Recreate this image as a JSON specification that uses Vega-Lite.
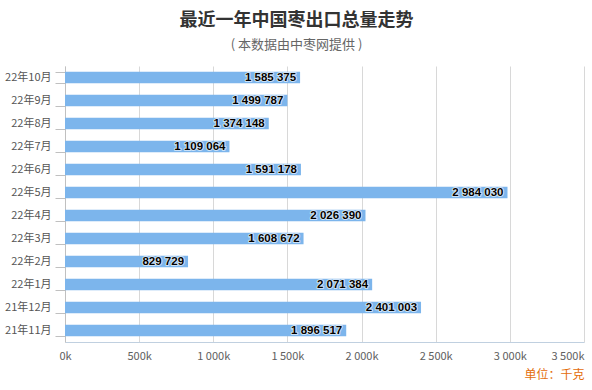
{
  "$schema": "https://vega.github.io/schema/vega-lite/v6.json",
  "width": 519,
  "height": 276,
  "autosize": "none",
  "padding": {"left": 65, "top": 66, "right": 8, "bottom": 48},
  "background": "white",
  "config": {
    "font": "Noto Sans CJK SC",
    "view": {"stroke": null},
    "locale": {"number": {"decimal": ".", "thousands": " ", "grouping": [3], "currency": ["", ""]}}
  },
  "title": {
    "text": "最近一年中国枣出口总量走势",
    "subtitle": "( 本数据由中枣网提供 )",
    "fontSize": 18,
    "fontWeight": "bold",
    "color": "#333333",
    "subtitleFontSize": 13,
    "subtitleColor": "#666666",
    "subtitlePadding": 9,
    "anchor": "middle",
    "dx": -28,
    "offset": 8
  },
  "data": {
    "values": [
      {"month": "22年10月", "value": 1585375},
      {"month": "22年9月", "value": 1499787},
      {"month": "22年8月", "value": 1374148},
      {"month": "22年7月", "value": 1109064},
      {"month": "22年6月", "value": 1591178},
      {"month": "22年5月", "value": 2984030},
      {"month": "22年4月", "value": 2026390},
      {"month": "22年3月", "value": 1608672},
      {"month": "22年2月", "value": 829729},
      {"month": "22年1月", "value": 2071384},
      {"month": "21年12月", "value": 2401003},
      {"month": "21年11月", "value": 1896517}
    ]
  },
  "encoding": {
    "y": {
      "field": "month",
      "type": "nominal",
      "sort": null,
      "scale": {"paddingInner": 0.5, "paddingOuter": 0.25},
      "axis": {
        "title": null,
        "labelFontSize": 11,
        "labelColor": "#555555",
        "labelPadding": 4,
        "tickBand": "extent",
        "tickSize": 10,
        "tickColor": "#c0c0c0",
        "domainColor": "#c0c0c0",
        "grid": false
      }
    },
    "x": {
      "field": "value",
      "type": "quantitative",
      "scale": {"domain": [0, 3500000], "nice": false},
      "axis": {
        "values": [0, 500000, 1000000, 1500000, 2000000, 2500000, 3000000, 3500000],
        "labelExpr": "format(datum.value / 1000, ',') + 'k'",
        "labelAlign": {"expr": "datum.value == 3500000 ? 'right' : 'center'"},
        "labelFlush": false,
        "labelFontSize": 11,
        "labelColor": "#606060",
        "labelPadding": 8,
        "ticks": false,
        "grid": true,
        "gridColor": "#d8d8d8",
        "domainColor": "#c0d0e0",
        "title": "单位：千克",
        "titleColor": "#e46c0a",
        "titleFontSize": 12,
        "titleFontWeight": "normal",
        "titleAnchor": "end",
        "titlePadding": 8
      }
    }
  },
  "layer": [
    {"mark": {"type": "bar", "color": "#7cb5ec"}},
    {
      "mark": {"type": "text", "align": "right", "dx": -4, "fontSize": 11.5, "fontWeight": "bold", "stroke": "white", "strokeWidth": 2, "strokeOpacity": 0.6, "strokeJoin": "round", "fill": "white", "font": "Liberation Sans"},
      "encoding": {"text": {"field": "value", "type": "quantitative", "format": ","}}
    },
    {
      "mark": {"type": "text", "align": "right", "dx": -4, "fontSize": 11.5, "fontWeight": "bold", "color": "#000000", "font": "Liberation Sans"},
      "encoding": {"text": {"field": "value", "type": "quantitative", "format": ","}}
    }
  ]
}
